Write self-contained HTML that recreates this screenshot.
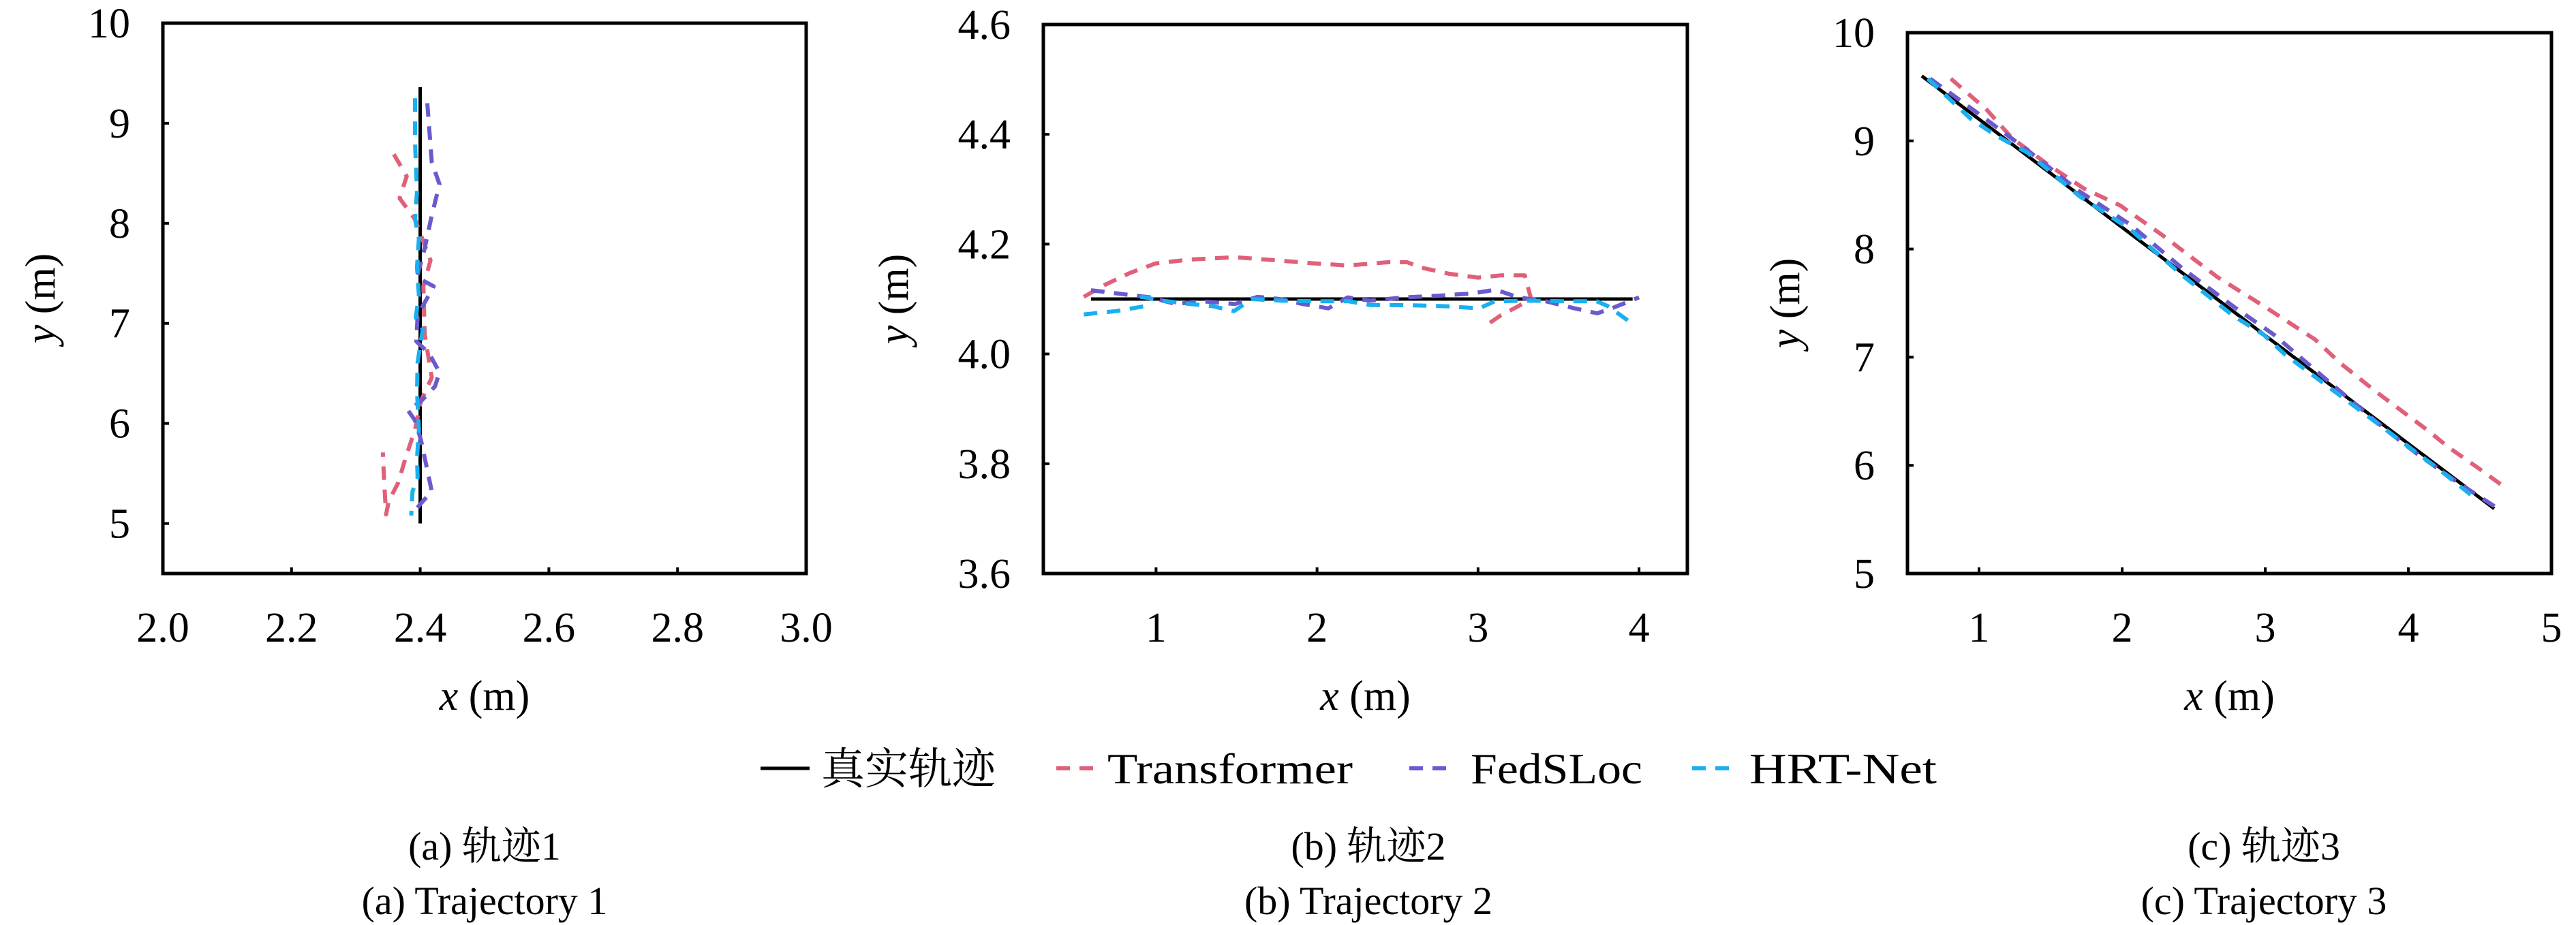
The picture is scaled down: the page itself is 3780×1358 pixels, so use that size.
<!DOCTYPE html>
<html><head><meta charset="utf-8"><style>
html,body{margin:0;padding:0;background:#fff;width:3780px;height:1358px;overflow:hidden}
svg{display:block}
text{font-family:"Liberation Serif","Noto Serif CJK SC",serif;fill:#000}
</style></head><body>
<svg id="fig" width="3780" height="1358" viewBox="0 0 3780 1358" xmlns="http://www.w3.org/2000/svg">
<g id="legend">
  <line x1="1116" y1="1128" x2="1188" y2="1128" stroke="#000" stroke-width="5"/>
  <text x="1205" y="1151" font-size="64">真实轨迹</text>
  <line x1="1550" y1="1128" x2="1610" y2="1128" stroke="#e0607a" stroke-width="6" stroke-dasharray="20 14"/>
  <text x="1625" y="1150" font-size="64" textLength="360" lengthAdjust="spacingAndGlyphs">Transformer</text>
  <line x1="2068" y1="1128" x2="2128" y2="1128" stroke="#6a5acd" stroke-width="6" stroke-dasharray="20 14"/>
  <text x="2158" y="1150" font-size="64" textLength="252" lengthAdjust="spacingAndGlyphs">FedSLoc</text>
  <line x1="2483" y1="1128" x2="2543" y2="1128" stroke="#1ab0f0" stroke-width="6" stroke-dasharray="20 14"/>
  <text x="2567" y="1150" font-size="64" textLength="275" lengthAdjust="spacingAndGlyphs">HRT-Net</text>
</g>
<g>
  <text x="711" y="1262" font-size="58" text-anchor="middle">(a) 轨迹1</text>
  <text x="711" y="1342" font-size="58" text-anchor="middle">(a) Trajectory 1</text>
  <text x="2008" y="1262" font-size="58" text-anchor="middle">(b) 轨迹2</text>
  <text x="2008" y="1342" font-size="58" text-anchor="middle">(b) Trajectory 2</text>
  <text x="3322" y="1262" font-size="58" text-anchor="middle">(c) 轨迹3</text>
  <text x="3322" y="1342" font-size="58" text-anchor="middle">(c) Trajectory 3</text>
</g>
</svg>
<script>
// ---- Trajectory 1 data ----
const t1TruthX = [2.4, 2.4];
const t1TruthY = [9.36, 5.0];
const t1TransX = [2.359,2.379,2.368,2.392,2.403,2.416,2.405,2.407,2.418,2.401,2.392,2.377,2.366,2.351,2.347,2.344,2.342];
const t1TransY = [8.69,8.47,8.25,8.04,7.85,7.63,7.37,6.89,6.46,6.22,5.94,5.65,5.41,5.22,5.09,5.41,5.71];
const t1FedX = [2.411,2.418,2.430,2.418,2.407,2.395,2.421,2.396,2.394,2.414,2.430,2.423,2.401,2.381,2.392,2.401,2.418,2.401,2.388];
const t1FedY = [9.20,8.61,8.39,8.08,7.75,7.46,7.37,7.08,6.82,6.70,6.51,6.37,6.22,6.13,6.03,5.84,5.32,5.20,5.10];
const t1HrtX = [2.392,2.392,2.395,2.392,2.398,2.395,2.398,2.393,2.404,2.396,2.395,2.398,2.395,2.396,2.388,2.386];
const t1HrtY = [9.25,8.80,8.32,8.04,7.85,7.56,7.28,7.06,6.94,6.61,6.32,5.94,5.65,5.46,5.32,5.08];
const t1XTicks = ["2.0","2.2","2.4","2.6","2.8","3.0"];
const t1YTicks = ["5","6","7","8","9","10"];
// ---- Trajectory 2 data ----
const t2TruthX = [0.596, 3.96];
const t2TruthY = [4.1, 4.1];
const t2TransX = [0.551,0.684,0.842,1.0,1.21,1.49,1.77,1.98,2.19,2.44,2.56,2.65,2.82,3.00,3.14,3.29,3.33,3.25,3.14,3.05];
const t2TransY = [4.104,4.126,4.148,4.165,4.172,4.176,4.170,4.165,4.161,4.167,4.167,4.157,4.146,4.139,4.143,4.143,4.100,4.087,4.070,4.052];
const t2FedX = [0.596,0.789,0.965,1.123,1.281,1.49,1.63,1.77,1.91,2.07,2.19,2.33,2.54,2.75,2.96,3.11,3.25,3.42,3.60,3.74,3.83,4.00];
const t2FedY = [4.116,4.109,4.103,4.091,4.096,4.091,4.104,4.100,4.091,4.083,4.103,4.097,4.103,4.106,4.110,4.117,4.103,4.096,4.083,4.074,4.083,4.103];
const t2HrtX = [0.551,0.754,0.930,0.912,1.035,1.211,1.351,1.484,1.596,1.772,1.982,2.193,2.333,2.544,2.789,3.007,3.105,3.316,3.526,3.737,3.807,3.930];
const t2HrtY = [4.072,4.078,4.087,4.104,4.097,4.091,4.087,4.078,4.100,4.097,4.096,4.096,4.089,4.089,4.087,4.083,4.096,4.097,4.096,4.096,4.087,4.061];
const t2XTicks = ["1","2","3","4"];
const t2YTicks = ["3.6","3.8","4.0","4.2","4.4","4.6"];
// ---- Trajectory 3 data ----
const t3TruthX = [0.6, 3.13, 4.6];
const t3TruthY = [9.6, 7.07, 5.6];
const t3TransX = [0.803,1.054,1.233,1.484,1.735,1.986,2.272,2.667,2.989,3.348,3.527,3.778,3.957,4.136,4.280,4.495,4.656];
const t3TransY = [9.575,9.288,9.022,8.779,8.558,8.403,8.137,7.739,7.473,7.164,6.942,6.677,6.500,6.323,6.168,5.969,5.814];
const t3FedX = [0.659,0.982,1.341,1.699,2.057,2.416,2.774,3.061,3.491,3.849,4.065,4.351,4.609];
const t3FedY = [9.575,9.265,8.912,8.535,8.226,7.827,7.473,7.208,6.721,6.323,6.102,5.836,5.615];
const t3HrtX = [0.642,0.946,1.125,1.341,1.699,2.057,2.416,2.774,2.989,3.133,3.491,3.849,4.208,4.459];
const t3HrtY = [9.575,9.199,9.044,8.889,8.491,8.181,7.761,7.385,7.208,7.031,6.677,6.323,5.969,5.704];
const t3XTicks = ["1","2","3","4","5"];
const t3YTicks = ["5","6","7","8","9","10"];

const NS = "http://www.w3.org/2000/svg";
const svg = document.getElementById('fig');
function mk(tag, attrs, parent){const e=document.createElementNS(NS,tag);for(const k in attrs)e.setAttribute(k,attrs[k]);parent.appendChild(e);return e;}

function drawPanel(id, box, xlim, ylim, xTicks, yTicks, series, yTitleX){
  const g = mk('g', {}, svg);
  
  
  const sx = v => box.l + (v - xlim[0]) / (xlim[1] - xlim[0]) * (box.r - box.l);
  const sy = v => box.b - (v - ylim[0]) / (ylim[1] - ylim[0]) * (box.b - box.t);
  series.forEach(s => {
    const pts = s.x.map((v,i) => sx(v).toFixed(1) + ',' + sy(s.y[i]).toFixed(1)).join(' ');
    const pl = mk('polyline', {points: pts, fill: 'none', stroke: s.color, 'stroke-width': s.dash ? 6 : 5, 'stroke-dasharray': s.dash ? '20 14' : 'none', 'stroke-linejoin': 'round'}, g);
    
    
  });
  const frame = mk('rect', {x: box.l, y: box.t, width: box.r - box.l, height: box.b - box.t, fill: 'none', stroke: '#000', 'stroke-width': 5}, g);
  
  
  xTicks.forEach(t => {
    const x = sx(parseFloat(t));
    mk('line', {x1: x, y1: box.b, x2: x, y2: box.b - 9, stroke: '#000', 'stroke-width': 4}, g);
    const tx = mk('text', {x: x, y: 942, 'font-size': 62, 'text-anchor': 'middle'}, g);
    tx.textContent = t;
    
    
  });
  yTicks.forEach(t => {
    const y = sy(parseFloat(t));
    mk('line', {x1: box.l, y1: y, x2: box.l + 9, y2: y, stroke: '#000', 'stroke-width': 4}, g);
    const ty = mk('text', {x: box.l - 48, y: y + 21, 'font-size': 62, 'text-anchor': 'end'}, g);
    ty.textContent = t;
    
    
  });
  const xt = mk('text', {x: (box.l + box.r) / 2, y: 1042, 'font-size': 62, 'text-anchor': 'middle'}, g);
  xt.innerHTML = '<tspan font-style="italic">x</tspan> (m)';
  
  
  const cy = (box.t + box.b) / 2;
  const yt = mk('text', {x: yTitleX, y: cy, 'font-size': 62, 'text-anchor': 'middle', transform: 'rotate(-90 ' + yTitleX + ' ' + cy + ')'}, g);
  yt.innerHTML = '<tspan font-style="italic">y</tspan> (m)';
  
  
}
const RED = '#e0607a', PUR = '#6a5acd', CYA = '#1ab0f0';
drawPanel('panel-trajectory-1', {l:239, r:1183, t:34, b:842}, [2,3], [4.5,10], t1XTicks, t1YTicks, [
  {name:'truth-line', x:t1TruthX, y:t1TruthY, color:'#000', dash:false},
  {name:'transformer-line', x:t1TransX, y:t1TransY, color:RED, dash:true},
  {name:'fedsloc-line', x:t1FedX, y:t1FedY, color:PUR, dash:true},
  {name:'hrtnet-line', x:t1HrtX, y:t1HrtY, color:CYA, dash:true}], 80);
drawPanel('panel-trajectory-2', {l:1531, r:2476, t:36, b:842}, [0.3,4.3], [3.6,4.6], t2XTicks, t2YTicks, [
  {name:'truth-line', x:t2TruthX, y:t2TruthY, color:'#000', dash:false},
  {name:'transformer-line', x:t2TransX, y:t2TransY, color:RED, dash:true},
  {name:'fedsloc-line', x:t2FedX, y:t2FedY, color:PUR, dash:true},
  {name:'hrtnet-line', x:t2HrtX, y:t2HrtY, color:CYA, dash:true}], 1332);
drawPanel('panel-trajectory-3', {l:2799, r:3744, t:48, b:842}, [0.5,5], [5,10], t3XTicks, t3YTicks, [
  {name:'truth-line', x:t3TruthX, y:t3TruthY, color:'#000', dash:false},
  {name:'transformer-line', x:t3TransX, y:t3TransY, color:RED, dash:true},
  {name:'fedsloc-line', x:t3FedX, y:t3FedY, color:PUR, dash:true},
  {name:'hrtnet-line', x:t3HrtX, y:t3HrtY, color:CYA, dash:true}], 2640);
</script>
</body></html>
